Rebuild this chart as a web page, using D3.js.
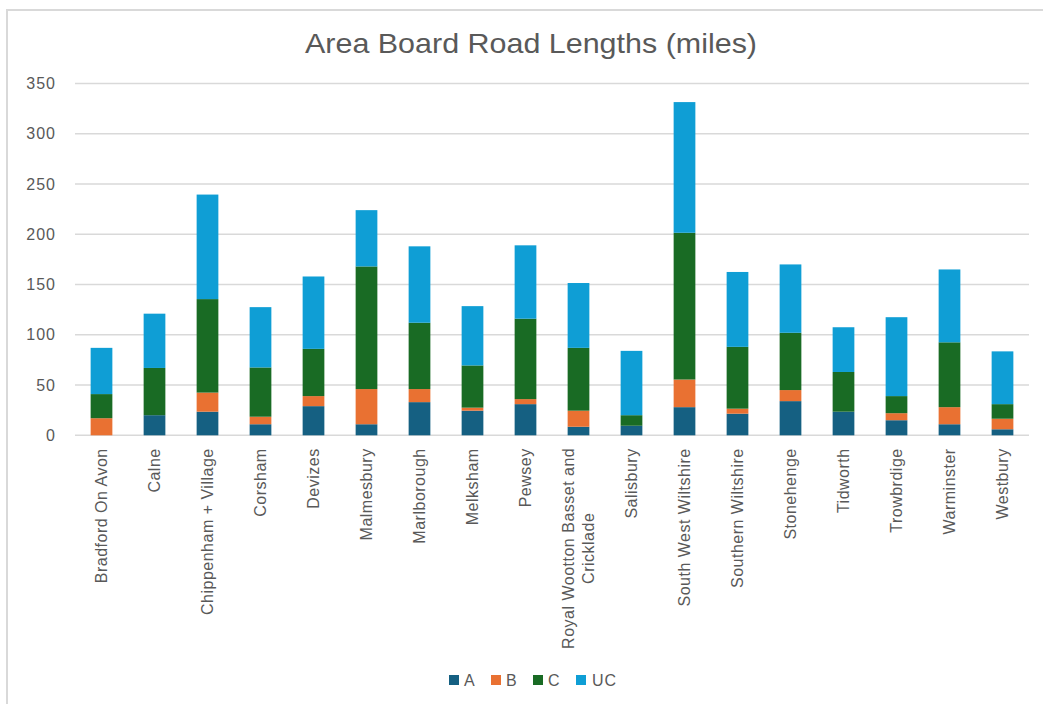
<!DOCTYPE html>
<html>
<head>
<meta charset="utf-8">
<script src="https://cdn.jsdelivr.net/npm/d3@7"></script>
<style>
  html, body { margin: 0; padding: 0; background: #fff; }
  svg { display: block; }
</style>
</head>
<body>
<svg id="chart" width="1043" height="704"></svg>
<script>
const categories = ["Bradford On Avon", "Calne", "Chippenham + Village", "Corsham", "Devizes", "Malmesbury",
  "Marlborough", "Melksham", "Pewsey", "Royal Wootton Basset and Cricklade", "Salisbury", "South West Wiltshire",
  "Southern Wiltshire", "Stonehenge", "Tidworth", "Trowbrdige", "Warminster", "Westbury"];
const seriesNames = ["A", "B", "C", "UC"];
const valuesA  = [0, 20, 23.5, 11, 29, 11, 33, 24.5, 31, 8.5, 9.5, 28, 21.5, 34, 23.5, 15, 11, 6];
const valuesB  = [17, 0, 19, 7.5, 10, 35, 13, 3, 5, 16, 0, 27.5, 5, 11, 0, 7, 17, 10.5];
const valuesC  = [24, 47, 93, 49, 47, 122, 66, 42, 80, 62.5, 10.5, 146, 61.5, 57, 39.5, 17, 64.5, 14.5];
const valuesUC = [46, 54, 104, 60, 72, 56, 76, 59, 73, 64.5, 64, 130, 74.5, 68, 44.5, 78.5, 72.5, 52.5];
const yTicks = [0, 50, 100, 150, 200, 250, 300, 350];
const title = "Area Board Road Lengths (miles)";

const colors = { A: "#156082", B: "#E97132", C: "#196B24", UC: "#0F9ED5" };
const textColor = "#595959";
const gridColor = "#d9d9d9";
const font = "'Liberation Sans', Arial, sans-serif";

const svg = d3.select("#chart");

// outer chart border
svg.append("rect")
  .attr("x", 7).attr("y", 10).attr("width", 1100).attr("height", 800)
  .attr("fill", "none").attr("stroke", gridColor).attr("stroke-width", 2);

const plot = { left: 75, right: 1029, top: 83.5, bottom: 435.3 };

const x = d3.scaleBand().domain(categories).range([plot.left, plot.right]).paddingInner(0.59).paddingOuter(0.295);
const y = d3.scaleLinear().domain([0, 350]).range([plot.bottom, plot.top]);

// gridlines
svg.append("g").selectAll("line").data(yTicks).join("line")
  .attr("x1", plot.left).attr("x2", plot.right)
  .attr("y1", d => y(d)).attr("y2", d => y(d))
  .attr("stroke", gridColor).attr("stroke-width", 1.5);

// y axis labels
const yAxis = d3.axisLeft(y).tickValues(yTicks).tickSize(0).tickPadding(0);
const yg = svg.append("g").attr("transform", `translate(${plot.left - 19},0)`).call(yAxis);
yg.select(".domain").remove();
yg.selectAll("text")
  .attr("fill", textColor)
  .style("font-family", font)
  .style("font-size", "16px")
  .style("letter-spacing", "1px");

// stacked data
const rows = categories.map((c, i) => ({ cat: c, A: valuesA[i], B: valuesB[i], C: valuesC[i], UC: valuesUC[i] }));
const stack = d3.stack().keys(seriesNames)(rows);

svg.append("g").selectAll("g").data(stack).join("g")
  .attr("fill", d => colors[d.key])
  .selectAll("rect").data(d => d).join("rect")
  .attr("x", d => x(d.data.cat))
  .attr("width", x.bandwidth())
  .attr("y", d => y(d[1]))
  .attr("height", d => Math.max(0, y(d[0]) - y(d[1])));

// x axis labels (rotated)
const xAxis = d3.axisBottom(x).tickSize(0).tickPadding(0);
const xg = svg.append("g").attr("transform", `translate(0,${plot.bottom})`).call(xAxis);
xg.select(".domain").remove();
xg.selectAll(".tick text").remove();
const wrapMap = { "Royal Wootton Basset and Cricklade": ["Royal Wootton Basset and", "Cricklade"] };
xg.selectAll(".tick").each(function(d) {
  const lines = wrapMap[d] || [d];
  const n = lines.length;
  const t = d3.select(this).append("text")
    .attr("transform", "rotate(-90)")
    .attr("text-anchor", n > 1 ? "middle" : "end")
    .attr("fill", textColor)
    .style("font-family", font)
    .style("font-size", "16px")
    .style("letter-spacing", "0.5px");
  lines.forEach((ln, k) => {
    t.append("tspan")
      .attr("x", n > 1 ? -13 - 100 : -13)
      .attr("y", 0)
      .attr("dy", (k - (n - 1) / 2) * 1.25 + 0.35 + "em")
      .text(ln);
  });
});

// title
svg.append("text")
  .attr("x", 531).attr("y", 53)
  .attr("text-anchor", "middle")
  .attr("fill", textColor)
  .attr("textLength", 452)
  .attr("lengthAdjust", "spacingAndGlyphs")
  .style("font-family", font)
  .style("font-size", "28px")
  .text(title);

// legend
const legendItems = [
  { key: "A", sx: 449, tx: 464 },
  { key: "B", sx: 491, tx: 506 },
  { key: "C", sx: 533, tx: 548 },
  { key: "UC", sx: 576, tx: 592 }
];
const lg = svg.append("g");
lg.selectAll("rect").data(legendItems).join("rect")
  .attr("x", d => d.sx).attr("y", 675).attr("width", 10).attr("height", 10)
  .attr("fill", d => colors[d.key]);
lg.selectAll("text").data(legendItems).join("text")
  .attr("x", d => d.tx).attr("y", 686)
  .attr("fill", textColor)
  .style("font-family", font)
  .style("font-size", "16px")
  .style("letter-spacing", "1px")
  .text(d => d.key);
</script>
</body>
</html>
